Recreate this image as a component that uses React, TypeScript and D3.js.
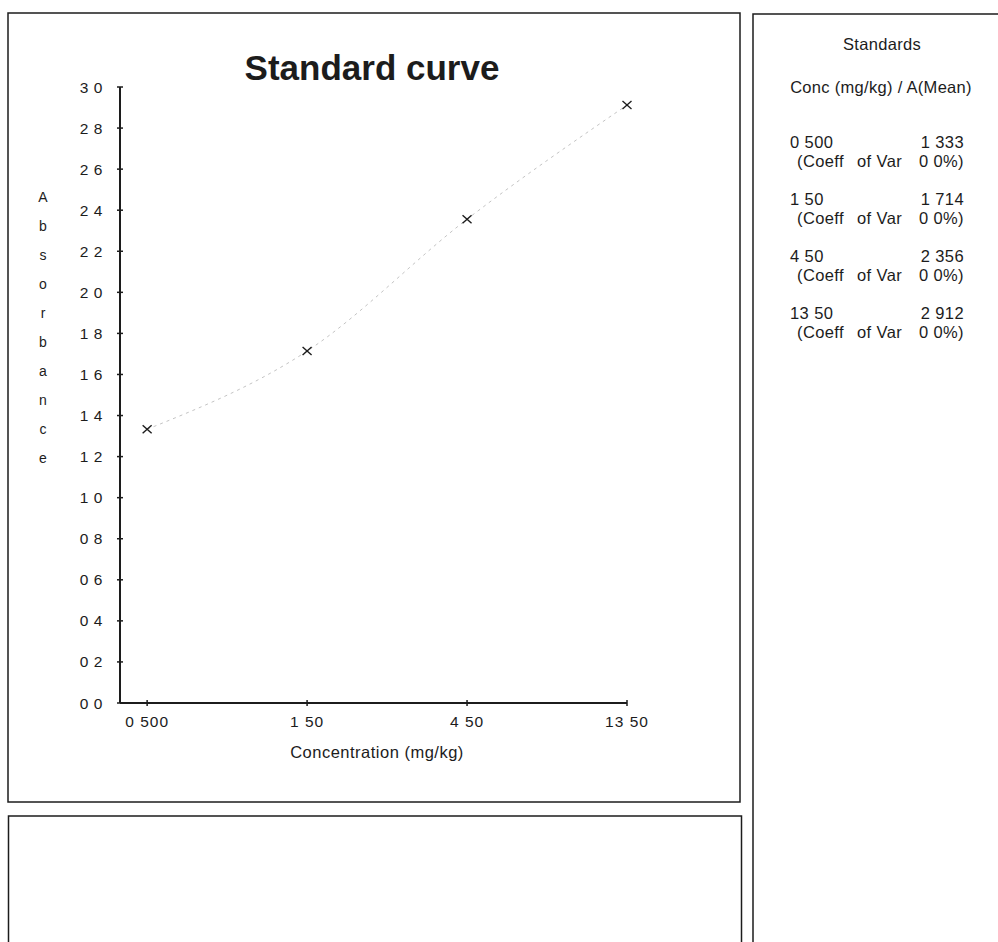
import React from "react";
import * as d3 from "d3";

// ---- data ----
const concentrations = [0.5, 1.5, 4.5, 13.5];
const concLabels = ["0 500", "1 50", "4 50", "13 50"];
const absorbance = [1.333, 1.714, 2.356, 2.912];
const absorbanceLabels = ["1 333", "1 714", "2 356", "2 912"];
const coeffOfVar = ["0 0%)", "0 0%)", "0 0%)", "0 0%)"];
const yTickValues = [0, 0.2, 0.4, 0.6, 0.8, 1.0, 1.2, 1.4, 1.6, 1.8, 2.0, 2.2, 2.4, 2.6, 2.8, 3.0];
const yAxisLetters = ["A", "b", "s", "o", "r", "b", "a", "n", "c", "e"];

const W = 998;
const H = 942;
const FONT = "'Liberation Sans', Arial, Helvetica, sans-serif";
const INK = "#1c1c1c";

export default function App() {
  const x = d3.scaleLog().domain([0.415, 13.5]).range([120, 627]);
  const y = d3.scaleLinear().domain([0, 3.0]).range([703, 87]);
  const fmtY = (v: number) => d3.format(".1f")(v).replace(".", " ");

  const pts = concentrations.map((c, i) => [x(c), y(absorbance[i])] as [number, number]);
  const curve = d3.line().curve(d3.curveMonotoneX)(pts) || "";

  return (
    <svg
      width={W}
      height={H}
      style={{ position: "absolute", left: 0, top: 0, display: "block", background: "#fff" }}
      fontFamily={FONT}
    >
      <rect x={0} y={0} width={W} height={H} fill="#fff" />
      {/* panels */}
      <rect x={8} y={13} width={732} height={789} fill="none" stroke={INK} strokeWidth={1.5} />
      <rect x={8.5} y={816} width={733} height={200} fill="none" stroke={INK} strokeWidth={1.5} />
      <rect x={753} y={14} width={300} height={1000} fill="none" stroke={INK} strokeWidth={1.5} />

      {/* title */}
      <text x={372} y={80} textAnchor="middle" fontSize={35} fontWeight="bold" fill={INK}>
        Standard curve
      </text>

      {/* y axis */}
      <line x1={x.range()[0]} x2={x.range()[0]} y1={y(0)} y2={y(3.0)} stroke={INK} strokeWidth={2} />
      {yTickValues.map((v) => (
        <g key={v}>
          <line x1={117} x2={123} y1={y(v)} y2={y(v)} stroke={INK} strokeWidth={1.5} />
          <text x={103} y={y(v) + 5.5} textAnchor="end" fontSize={15.5} fill={INK} letterSpacing={0.6}>
            {fmtY(v)}
          </text>
        </g>
      ))}
      {yAxisLetters.map((ch, i) => (
        <text key={i} x={43} y={202 + i * 29} textAnchor="middle" fontSize={14} fill={INK}>
          {ch}
        </text>
      ))}

      {/* x axis */}
      <line x1={x.range()[0]} x2={x.range()[1]} y1={y(0)} y2={y(0)} stroke={INK} strokeWidth={2} />
      {concentrations.map((c, i) => (
        <g key={c}>
          <line x1={x(c)} x2={x(c)} y1={y(0) - 3} y2={y(0) + 3} stroke={INK} strokeWidth={1.5} />
          <text x={x(c)} y={727} textAnchor="middle" fontSize={15.5} fill={INK} letterSpacing={1}>
            {concLabels[i]}
          </text>
        </g>
      ))}
      <text x={377} y={758} textAnchor="middle" fontSize={16.5} fill={INK} letterSpacing={0.5}>
        Concentration (mg/kg)
      </text>

      {/* fitted curve */}
      <path d={curve} fill="none" stroke="#c4c4c4" strokeWidth={1} strokeDasharray="3,4" />

      {/* markers */}
      {pts.map(([px, py], i) => (
        <g key={i} stroke={INK} strokeWidth={1.4}>
          <line x1={px - 4.5} x2={px + 4.5} y1={py - 4} y2={py + 4} />
          <line x1={px - 4.5} x2={px + 4.5} y1={py + 4} y2={py - 4} />
        </g>
      ))}

      {/* standards panel */}
      <text x={882} y={50} textAnchor="middle" fontSize={16.5} fill={INK} letterSpacing={0.3}>
        Standards
      </text>
      <text x={881} y={93} textAnchor="middle" fontSize={16.5} fill={INK} letterSpacing={0.3}>
        Conc (mg/kg) / A(Mean)
      </text>
      {concentrations.map((c, i) => {
        const by = 148 + i * 57;
        return (
          <g key={c} fontSize={16.5} fill={INK} letterSpacing={0.4}>
            <text x={790} y={by}>{concLabels[i]}</text>
            <text x={964} y={by} textAnchor="end">{absorbanceLabels[i]}</text>
            <text x={797} y={by + 18.5}>(Coeff</text>
            <text x={857} y={by + 18.5}>of Var</text>
            <text x={964} y={by + 18.5} textAnchor="end">{coeffOfVar[i]}</text>
          </g>
        );
      })}
    </svg>
  );
}
